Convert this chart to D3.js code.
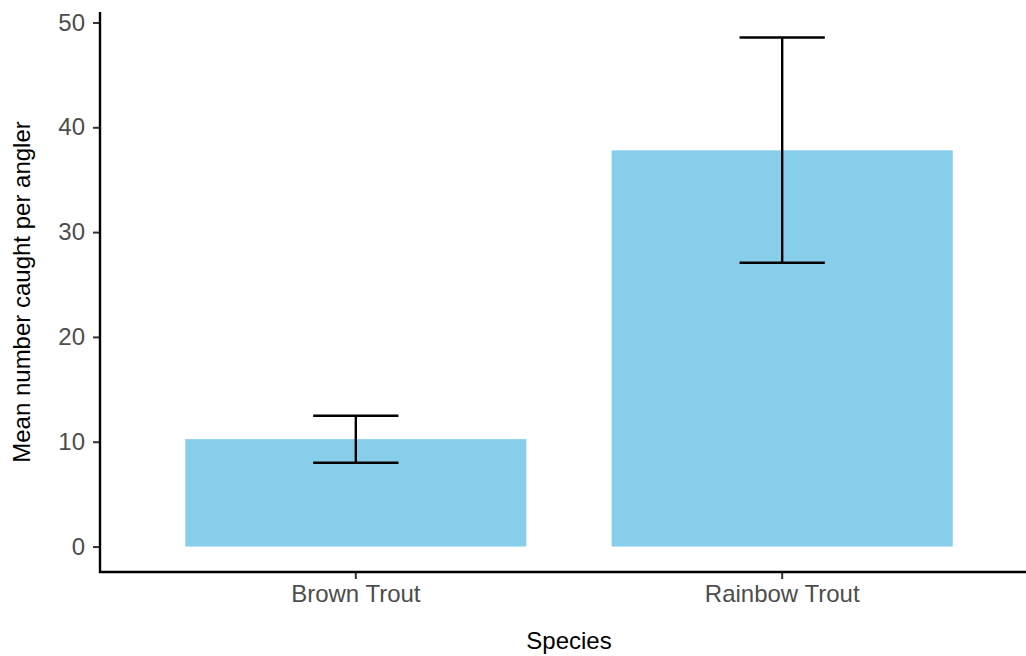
<!DOCTYPE html>
<html>
<head>
<meta charset="utf-8">
<script src="https://cdn.jsdelivr.net/npm/d3@7"></script>
<style>
  html, body { margin: 0; padding: 0; background: #fff; }
  svg { display: block; font-family: "Liberation Sans", Arial, sans-serif; }
</style>
</head>
<body>
<svg id="chart" width="1026" height="656"></svg>
<script>
// Mean catch per angler by species, with error bar limits
const species = ["Brown Trout", "Rainbow Trout"];
const meanCatch = [10.25, 37.8];
const lowerLimit = [8.0, 27.07];
const upperLimit = [12.48, 48.57];
const yTicks = [0, 10, 20, 30, 40, 50];

const svg = d3.select("#chart");
const panel = { left: 100, right: 1038, top: 12, bottom: 572 };
const fontSize = 24;

const x = d3.scaleBand()
  .domain(species)
  .range([panel.left, panel.right])
  .paddingInner(0.2)
  .paddingOuter(0.2);

// y domain expanded 5% around the data range (0 to highest upper limit)
const yMax = d3.max(upperLimit);
const pad = yMax * 0.05;
const y = d3.scaleLinear()
  .domain([0 - pad, yMax + pad])
  .range([panel.bottom, panel.top]);

const rows = species.map((s, i) => ({
  s, mean: meanCatch[i], lo: lowerLimit[i], hi: upperLimit[i]
}));

// bars
svg.append("g").selectAll("rect")
  .data(rows)
  .join("rect")
  .attr("x", d => x(d.s))
  .attr("width", x.bandwidth())
  .attr("y", d => y(d.mean))
  .attr("height", d => y(0) - y(d.mean))
  .attr("fill", "#87CEEB");

// error bars
const capHalf = x.step() * 0.1;
const eb = svg.append("g")
  .attr("stroke", "#000")
  .attr("stroke-width", 2.4)
  .attr("fill", "none");
rows.forEach(d => {
  const cx = x(d.s) + x.bandwidth() / 2;
  eb.append("line").attr("x1", cx).attr("x2", cx).attr("y1", y(d.hi)).attr("y2", y(d.lo));
  eb.append("line").attr("x1", cx - capHalf).attr("x2", cx + capHalf).attr("y1", y(d.hi)).attr("y2", y(d.hi));
  eb.append("line").attr("x1", cx - capHalf).attr("x2", cx + capHalf).attr("y1", y(d.lo)).attr("y2", y(d.lo));
});

// y axis
const yAxis = svg.append("g")
  .attr("transform", `translate(${panel.left},0)`)
  .call(d3.axisLeft(y).tickValues(yTicks).tickSize(7).tickPadding(8).tickFormat(d3.format("d")));
yAxis.select(".domain").remove();
yAxis.selectAll(".tick line").attr("stroke", "#333").attr("stroke-width", 2);
yAxis.selectAll(".tick text")
  .attr("fill", "#4d4d4d")
  .attr("font-size", fontSize)
  .attr("font-family", "Liberation Sans, Arial, sans-serif");

// x axis
const xAxis = svg.append("g")
  .attr("transform", `translate(0,${panel.bottom})`)
  .call(d3.axisBottom(x).tickSize(7).tickPadding(6));
xAxis.select(".domain").remove();
xAxis.selectAll(".tick line").attr("stroke", "#333").attr("stroke-width", 2);
xAxis.selectAll(".tick text")
  .attr("fill", "#4d4d4d")
  .attr("font-size", fontSize)
  .attr("font-family", "Liberation Sans, Arial, sans-serif");

// axis lines
svg.append("line")
  .attr("x1", panel.left).attr("x2", panel.left)
  .attr("y1", panel.top).attr("y2", panel.bottom + 1)
  .attr("stroke", "#000").attr("stroke-width", 2.4);
svg.append("line")
  .attr("x1", panel.left - 1).attr("x2", panel.right)
  .attr("y1", panel.bottom).attr("y2", panel.bottom)
  .attr("stroke", "#000").attr("stroke-width", 2.4);

// axis titles
svg.append("text")
  .attr("x", (panel.left + 1026) / 2 + 6)
  .attr("y", 649)
  .attr("text-anchor", "middle")
  .attr("font-size", fontSize)
  .attr("fill", "#000")
  .text("Species");

svg.append("text")
  .attr("transform", `translate(30,${(panel.top + panel.bottom) / 2}) rotate(-90)`)
  .attr("text-anchor", "middle")
  .attr("font-size", fontSize)
  .attr("fill", "#000")
  .text("Mean number caught per angler");
</script>
</body>
</html>
